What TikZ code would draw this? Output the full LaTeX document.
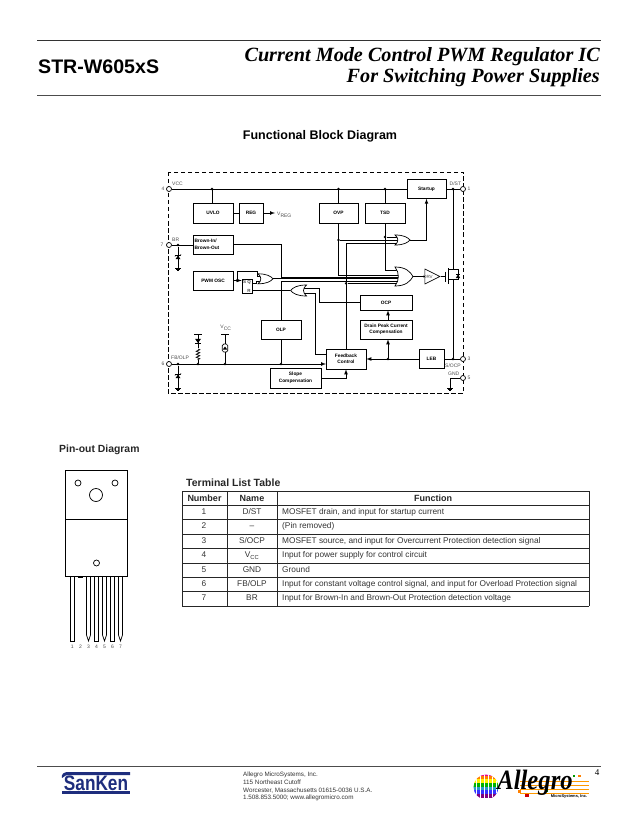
\documentclass[tikz,border=0pt]{standalone}
\usepackage{fontspec}
\setmainfont{Liberation Sans}
\newfontfamily\titlefont{Liberation Serif}
\usetikzlibrary{arrows}
\usetikzlibrary{shapes.geometric}
\usetikzlibrary{decorations.pathmorphing}
\definecolor{sankenblue}{RGB}{30,45,125}
\tikzset{
	wire/.style={line width=0.7pt},
	sig/.style={wire, -latex},
	blk/.style={draw, line width=0.7pt, inner sep=0pt, align=center, font=\fontsize{4.8}{6.5}\selectfont\bfseries},
	jdot/.style={circle, fill=black, inner sep=0pt, minimum size=2.6pt},
	term/.style={circle, draw, fill=white, line width=0.7pt, inner sep=0pt, minimum size=5pt},
	lbl/.style={inner sep=0pt, text=black!70, font=\fontsize{5}{6}\selectfont},
	cell/.style={inner sep=0pt, text height=6pt, text depth=2pt, text=black!80, font=\fontsize{8.3}{10}\selectfont},
	headcell/.style={inner sep=0pt, text=black!85, font=\fontsize{9}{10}\selectfont\bfseries},
	addr/.style={inner sep=0pt, anchor=west, text=black!80, font=\fontsize{6.3}{8}\selectfont},
	pics/orgate/.style 2 args={code={
		\draw[line width=0.7pt, fill=white] ({-0.5*#1},{-0.5*#2}) .. controls ({0.1*#1},{-0.5*#2}) and ({0.35*#1},{-0.25*#2}) .. ({0.5*#1},0)
			.. controls ({0.35*#1},{0.25*#2}) and ({0.1*#1},{0.5*#2}) .. ({-0.5*#1},{0.5*#2})
			.. controls ({-0.25*#1},{0.2*#2}) and ({-0.25*#1},{-0.2*#2}) .. cycle;
	}},
	gndsym/.pic={
		\draw[line width=0.6pt] (-3,0) -- (3,0);
		\draw[line width=0.6pt] (-2,1.2) -- (2,1.2);
		\draw[line width=0.6pt] (-1,2.4) -- (1,2.4);
	},
	zenerup/.pic={
		\fill (-2.5,2.2) -- (2.5,2.2) -- (0,-1.5) -- cycle;
		\draw[line width=0.7pt] (-3,-0.6) -- (-2.5,-1.6) -- (2.5,-1.6) -- (3,-2.6);
	},
	diodedn/.pic={
		\fill (-3,-2.2) -- (3,-2.2) -- (0,2) -- cycle;
		\draw[line width=0.7pt] (-3,2.2) -- (3,2.2);
	},
}

\begin{document}
\begin{tikzpicture}[x=1pt, y=-1pt]
	\useasboundingbox (0,0) rectangle (638,826);
	% page head
	\draw[line width=0.8pt, black!80] (37,40) -- (601,40);
	\draw[line width=0.8pt, black!70] (37,95) -- (601,95);
	\node[anchor=west, inner sep=0pt, font=\fontsize{19.6}{22}\selectfont\bfseries] (part) at (38,67) {STR-W605xS};
	\node[anchor=east, inner sep=0pt, font=\titlefont\fontsize{20.2}{22}\selectfont\bfseries\itshape] (titleone) at (600,57) {Current Mode Control PWM Regulator IC};
	\node[anchor=east, inner sep=0pt, font=\titlefont\fontsize{20.2}{22}\selectfont\bfseries\itshape] (titletwo) at (600,78) {For Switching Power Supplies};
	\node[inner sep=0pt, font=\fontsize{12.5}{14}\selectfont\bfseries] (fbdtitle) at (320,136) {Functional Block Diagram};

	% frame and blocks
	\draw[line width=0.7pt, dash pattern=on 4.5pt off 2.5pt] (168,172) rectangle (463,393);
	\node[blk, minimum width=39pt, minimum height=19pt] (startup) at (426.5,189) {Startup};
	\node[blk, minimum width=40pt, minimum height=20pt] (uvlo) at (213,213) {UVLO};
	\node[blk, minimum width=24pt, minimum height=20pt] (reg) at (251,213) {REG};
	\node[blk, minimum width=39pt, minimum height=20pt] (ovp) at (338.5,213) {OVP};
	\node[blk, minimum width=40pt, minimum height=20pt] (tsd) at (385,213) {TSD};
	\node[blk, minimum width=40pt, minimum height=19pt, align=left, text width=37pt] (brown) at (213,244.5) {Brown-In/\\Brown-Out};
	\node[blk, minimum width=40pt, minimum height=19pt] (pwm) at (213,280.5) {PWM OSC};
	\node[blk, minimum width=10pt, minimum height=14pt] (latch) at (247,286) {};
	\node[blk, minimum width=40pt, minimum height=19pt] (olp) at (281,329.5) {OLP};
	\node[blk, minimum width=52pt, minimum height=15pt] (ocp) at (386,302.5) {OCP};
	\node[blk, minimum width=52pt, minimum height=19pt] (drain) at (386,329.5) {Drain Peak Current\\Compensation};
	\node[blk, minimum width=40pt, minimum height=20pt] (feedback) at (346,359) {Feedback\\Control};
	\node[blk, minimum width=25pt, minimum height=19pt] (leb) at (431.5,359) {LEB};
	\node[blk, minimum width=51pt, minimum height=20pt] (slope) at (295.5,378) {Slope\\Compensation};
	\node[isosceles triangle, isosceles triangle stretches, draw, line width=0.6pt, inner sep=0pt, minimum width=15pt, minimum height=15pt] (drv) at (429.5,276.5) {};
	\node[lbl, font=\fontsize{4.5}{5}\selectfont] (drvtext) at (428,276.5) {DRV};

	% terminals
	\node[term] (tfour) at (169,189) {};
	\node[term] (tseven) at (169,245) {};
	\node[term] (tsix) at (169,364) {};
	\node[term] (tone) at (463,189) {};
	\node[term] (tthree) at (463,359) {};
	\node[term] (tfive) at (463,378) {};

	% gate ends
	\coordinate (oneina) at (262,276.3);
	\coordinate (oneinb) at (262,281.3);
	\coordinate (oneout) at (273,278.8);
	\coordinate (twoina) at (302,288);
	\coordinate (twoinb) at (302,293);
	\coordinate (twoout) at (290,290.5);
	\coordinate (threeina) at (400,237);
	\coordinate (threeinb) at (400,240);
	\coordinate (threeinc) at (400,243);
	\coordinate (threeout) at (410,240);
	\coordinate (bigina) at (400,270);
	\coordinate (biginb) at (400,275.2);
	\coordinate (biginc) at (400,277);
	\coordinate (bigind) at (400,278.8);
	\coordinate (bigine) at (400,281.2);
	\coordinate (biginf) at (400,283.3);
	\coordinate (bigout) at (413,276.5);

	% junctions
	\node[jdot] (jvcc) at (212,189) {};
	\node[jdot] (jovp) at (338.5,189) {};
	\node[jdot] (jtsd) at (385,189) {};
	\node[jdot] (jdst) at (453,189) {};
	\node[jdot] (jbr) at (178,245) {};
	\node[jdot] (jpwm) at (237,280.5) {};
	\node[jdot] (jfb) at (178,364) {};
	\node[jdot] (jres) at (198,364) {};
	\node[jdot] (jopto) at (225,364) {};
	\node[jdot] (jolp) at (281,364) {};
	\node[jdot] (jdrain) at (388,359) {};
	\node[jdot] (jsrc) at (453,359) {};
	\node[jdot] (jtsdo) at (tsd.south |- threeina) {};
	\node[jdot] (jovpo) at (ovp.south |- threeinb) {};
	\node[jdot] (jfbo) at (feedback.north |- biginf) {};

	\coordinate (fbin) at (326,364);
	\coordinate (fbout) at (326,354);
	\coordinate (fbjog) at (315,354);
	\coordinate (ocpjog) at (319,302.5);
	\coordinate (pwmtop) at (257,271.5);
	\coordinate (latchq) at (252,283);
	\coordinate (vreg) at (275,213);
	\coordinate (gndbr) at (178,268);
	\coordinate (gndfb) at (178,388);
	\coordinate (gndfive) at (450,388);
	\coordinate (fetgate) at (445.5,276.5);
	\coordinate (fetdrn) at (453,269);
	\coordinate (fetsrc) at (453,279);
	\coordinate (barres) at (198,334);
	\coordinate (baropto) at (225,334);

	% wiring
	\draw[wire] (tfour) -- (startup.west);
	\draw[wire] (startup.east) -- (tone);
	\draw[wire] (jvcc) -- (jvcc |- uvlo.north);
	\draw[wire] (jovp) -- (ovp.north);
	\draw[wire] (jtsd) -- (tsd.north);
	\draw[wire] (uvlo.east) -- (reg.west);
	\draw[sig] (reg.east) -- (vreg);
	\draw[wire] (tseven) -- (brown.west |- tseven);
	\draw[wire] (brown.east) -- (olp.north |- brown.east) -- (olp.north |- biginc) -- (biginc);
	\draw[wire] (olp.north) |- (bigine);
	\draw[wire] (oneout) -- (bigind);
	\draw[wire] (tsd.south) |- (bigina);
	\draw[wire] (ovp.south) |- (biginb);
	\draw[wire] (feedback.north) |- (threeinc);
	\draw[wire] (jfbo) -- (biginf);
	\draw[wire] (jtsdo) -- (threeina);
	\draw[wire] (jovpo) -- (threeinb);
	\draw[sig] (threeout) -| (startup.south);
	\draw[wire] (bigout) -- (drv.lower side);
	\draw[wire] (drv.apex) -- (fetgate);
	\draw[sig] (pwm.east) -- (latch.west |- pwm.east);
	\draw[wire] (jpwm) |- (pwmtop) |- (oneina);
	\draw[wire] (latchq) -- ++(4,0) |- (oneinb);
	\draw[wire] (twoout) -- (latch.east |- twoout);
	\draw[wire] (twoina) -| (ocpjog) -- (ocp.west);
	\draw[wire] (twoinb) -| (fbjog) -- (fbout);
	\draw[wire] (olp.south) -- (jolp);
	\draw[sig] (tsix) -- (fbin);
	\draw[sig] (slope.east) -| (feedback.south);
	\draw[sig] (leb.west) -- (feedback.east);
	\draw[sig] (jdrain) -- (jdrain |- drain.south);
	\draw[sig] (jdrain |- drain.north) -- (jdrain |- ocp.south);
	\draw[wire] (leb.east) -- (tthree);
	\draw[wire] (jdst) -- (fetdrn);
	\draw[wire] (jsrc) -- (fetsrc);
	\draw[wire] (tfive) -| (gndfive);
	\pic at (gndfive) {gndsym};

	% gates
	\pic at (265.5,278.8) {orgate={15}{10}};
	\pic[rotate=180] at (298.5,290.5) {orgate={16}{11}};
	\pic at (402.5,240) {orgate={15}{10}};
	\pic at (404,276.5) {orgate={18}{19}};

	% mosfet
	\draw[line width=0.8pt] (445.5,271.5) -- (445.5,281.5);
	\draw[line width=0.8pt] (448,268) -- (448,284);
	\draw[wire] (448,269) -- (458,269) -- (458,279) -- (448,279);
	\fill (455.8,278) -- (460.2,278) -- (458,274.5) -- cycle;
	\draw[wire] (455.8,274.3) -- (460.2,274.3);

	% parts on the FB and BR lines
	\draw[wire] (jbr) -- (gndbr);
	\pic at (178,257) {zenerup};
	\pic at (gndbr) {gndsym};
	\draw[wire] (jfb) -- (gndfb);
	\pic at (178,376) {zenerup};
	\pic at (gndfb) {gndsym};
	\draw[wire] (194,334) -- (202,334);
	\draw[wire] (barres) -- (198,348);
	\pic at (198,341) {diodedn};
	\draw[wire, decorate, decoration={zigzag, amplitude=1.8pt, segment length=3pt}] (198,349) -- (198,360);
	\draw[wire] (198,360) -- (jres);
	\draw[wire] (221,334) -- (229,334);
	\node[draw, line width=0.7pt, rounded corners=1.5pt, fill=white, inner sep=0pt, minimum width=5.5pt, minimum height=8pt] (opto) at (225,348) {};
	\draw[wire] (baropto) -- (opto.north);
	\draw[wire] (opto.south) -- (jopto);
	\fill (222.8,349.5) -- (227.2,349.5) -- (225,346.5) -- cycle;

	% labels
	\node[lbl, anchor=west] (lvcc) at (172,184) {VCC};
	\node[lbl] (nfour) at (163,189) {4};
	\node[lbl, anchor=west] (lbr) at (172,239.5) {BR};
	\node[lbl] (nseven) at (162,245) {7};
	\node[lbl, anchor=west] (lfb) at (171,358) {FB/OLP};
	\node[lbl] (nsix) at (163,364) {6};
	\node[lbl, anchor=west] (ldst) at (449.5,184) {D/ST};
	\node[lbl] (none) at (469,189) {1};
	\node[lbl] (nthree) at (469,358.5) {3};
	\node[lbl, anchor=west] (lsocp) at (445,366) {S/OCP};
	\node[lbl, anchor=west] (lgnd) at (448,374) {GND};
	\node[lbl] (nfive) at (469,378) {5};
	\node[lbl, anchor=west] (lvreg) at (277,215) {V\textsubscript{REG}};
	\node[lbl] (lvccin) at (226,328) {V\textsubscript{CC}};
	\node[lbl, font=\fontsize{4.5}{6}\selectfont\bfseries] (lsq) at (247,282.5) {S Q};
	\node[lbl, font=\fontsize{4.5}{6}\selectfont\bfseries] (lr) at (249,290.5) {R};

	% pin-out
	\node[anchor=west, inner sep=0pt, text=black!85, font=\fontsize{10.4}{12}\selectfont\bfseries] (pinouttitle) at (59,450) {Pin-out Diagram};
	\draw[line width=0.8pt] (65,470) rectangle (127,576);
	\draw[line width=0.8pt] (65,519) -- (127,519);
	\draw[line width=0.7pt] (78,483) circle (3);
	\draw[line width=0.7pt] (115,483) circle (3);
	\draw[line width=0.7pt] (96,495) circle (6.5);
	\draw[line width=0.7pt] (96.5,563) circle (3);
	\fill (78,576) rectangle (83,577.8);
	\foreach \xpin in {72.3,96.5,112.5} {
		\draw[line width=0.7pt] (\xpin-2,576) rectangle (\xpin+2,641);
	}
	\foreach \xpin in {88.5,104.5,120.5} {
		\draw[line width=0.7pt] (\xpin-2,576) -- (\xpin-2,635) -- (\xpin,641) -- (\xpin+2,635) -- (\xpin+2,576);
	}
	\foreach \xpin/\npin in {72.3/1,80.5/2,88.5/3,96.5/4,104.5/5,112.5/6,120.5/7} {
		\node[lbl, font=\fontsize{5}{6}\selectfont] (pinno\npin) at (\xpin,647) {\npin};
	}

	% table
	\node[anchor=west, inner sep=0pt, text=black!85, font=\fontsize{10.5}{12}\selectfont\bfseries] (tabletitle) at (186,482.5) {Terminal List Table};
	\foreach \yrow in {491,505,519.7,534,548.7,563,577,591,606} {
		\draw[line width=0.8pt, black!85] (182,\yrow) -- (589,\yrow);
	}
	\draw[line width=0.8pt, black!85] (227,491) -- (227,606);
	\draw[line width=0.8pt, black!85] (277,491) -- (277,606);
	\draw[line width=0.8pt, black!85] (182,491) -- (182,606);
	\draw[line width=0.8pt, black!85] (589,491) -- (589,606);
	\node[headcell] (headnum) at (204.5,498) {Number};
	\node[headcell] (headname) at (252,498) {Name};
	\node[headcell] (headfunc) at (433,498) {Function};
	\foreach \yrow/\num/\pinname/\func in {
		512.3/1/{D/ST}/{MOSFET drain, and input for startup current},
		526.8/2/{--}/{(Pin removed)},
		541.3/3/{S/OCP}/{MOSFET source, and input for Overcurrent Protection detection signal},
		555.8/4/{V\textsubscript{CC}}/{Input for power supply for control circuit},
		570/5/{GND}/{Ground},
		584/6/{FB/OLP}/{Input for constant voltage control signal, and input for Overload Protection signal},
		598.5/7/{BR}/{Input for Brown-In and Brown-Out Protection detection voltage}} {
		\node[cell] (cellnum\num) at (204,\yrow) {\num};
		\node[cell] (cellname\num) at (252,\yrow) {\pinname};
		\node[cell, anchor=west] (cellfunc\num) at (282,\yrow) {\func};
	}

	% foot
	\draw[line width=0.8pt, black!70] (37,766) -- (601,766);
	\fill[sankenblue] (68,772) -- (130,772) -- (130,775) -- (68,775) .. controls (64,775) and (64,778) .. (62,778) .. controls (61,774) and (64,772) .. (68,772) -- cycle;
	\fill[sankenblue] (62,790.5) rectangle (130,793.5);
	\node[inner sep=0pt, transform shape, xscale=0.82, text=sankenblue, font=\fontsize{21}{22}\selectfont\bfseries] (sanken) at (96,783) {SanKen};
	\node[addr] (addrone) at (243,775) {Allegro MicroSystems, Inc.};
	\node[addr] (addrtwo) at (243,782.5) {115 Northeast Cutoff};
	\node[addr] (addrthree) at (243,790.5) {Worcester, Massachusetts 01615-0036 U.S.A.};
	\node[addr] (addrfour) at (243,798) {1.508.853.5000; www.allegromicro.com};
	\begin{scope}
		\clip (486,787) circle (12.5);
		\foreach \ystripe/\cstripe in {774/magenta,777.6/orange,781.2/yellow,784.8/green!70!black,788.4/cyan!80!black,792/blue!80,795.6/violet} {
			\fill[\cstripe] (470,\ystripe-1.8) rectangle (502,\ystripe+1.9);
		}
		\foreach \xgrid in {476,480,484,488,492,496} {
			\draw[white, line width=0.5pt] (\xgrid,772) -- (\xgrid,802);
		}
	\end{scope}
	\foreach \yline in {781,785,789,793} {
		\draw[line width=0.6pt, orange!80!yellow] (520,\yline) -- (589,\yline);
	}
	\fill[green!60!black] (573,775) rectangle (575,777);
	\fill[orange] (578,775) rectangle (581,777);
	\fill[green!60!black] (545,789) rectangle (548,791.5);
	\fill[orange] (518,790) rectangle (521,792.5);
	\fill[red!80!black] (525,794) rectangle (529,797);
	\node[inner sep=0pt, transform shape, xscale=0.88, font=\titlefont\fontsize{28}{30}\selectfont\bfseries\itshape] (allegro) at (535,782.5) {Allegro};
	\node[inner sep=0pt, font=\fontsize{4}{5}\selectfont\bfseries] (microsys) at (569,796.5) {MicroSystems, Inc.};
	\node[inner sep=0pt, font=\titlefont\fontsize{9}{10}\selectfont] (pageno) at (597,773) {4};
\end{tikzpicture}
\end{document}
